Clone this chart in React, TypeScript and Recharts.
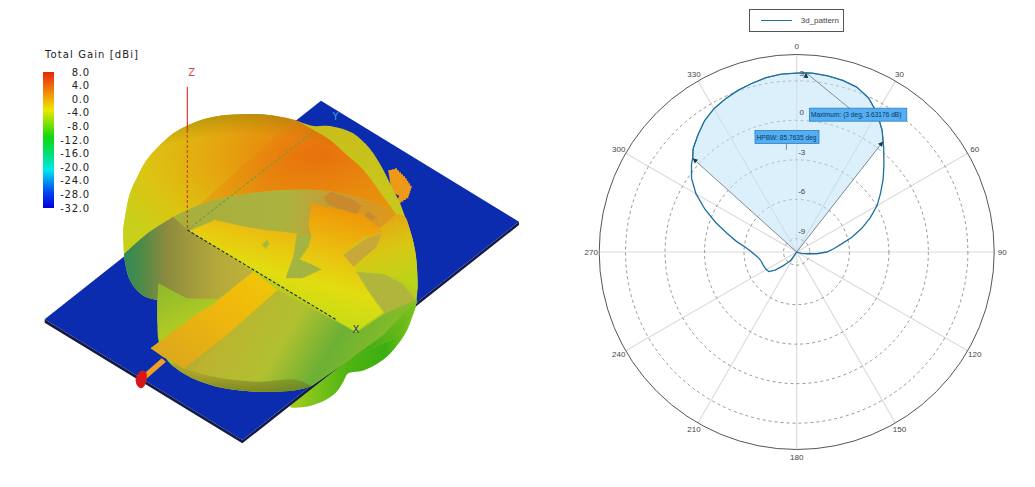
import {
  Bar,
  BarChart,
  Legend,
  PolarAngleAxis,
  PolarGrid,
  PolarRadiusAxis,
  Radar,
  RadarChart,
  Scatter,
  ScatterChart,
  XAxis,
  YAxis,
} from "recharts";

// polar cut, gain in dB at each angle in degrees
const angles = [
  0, 3, 5, 10, 15, 20, 25, 30, 35, 38, 40, 45, 50, 55, 60, 65, 70, 75, 80, 85, 90, 95, 100, 105, 110,
  115, 125, 135, 145, 155, 165, 175, 185, 195, 205, 210, 215, 220, 225, 230, 235, 240, 245, 250, 255,
  260, 265, 270, 275, 280, 285, 290, 295, 300, 305, 310, 312, 315, 320, 325, 330, 335, 340, 345, 350, 355,
];
const gainDb = [
  3.59, 3.63, 3.63, 3.59, 3.5, 3.33, 2.91, 2.19, 1.31, 0.66, 0.28, -0.63, -1.43, -2.23, -2.95, -3.83,
  -4.74, -5.66, -6.57, -7.18, -7.72, -8.48, -9.24, -9.62, -9.85, -10, -10, -10, -10, -10, -10, -10, -10,
  -10, -10, -10, -9.24, -8.93, -8.48, -7.87, -7.41, -7.33, -7.3, -7.26, -7.22, -7.11, -6.88, -6.57, -6.12,
  -5.35, -4.52, -3.45, -2.31, -1.17, -0.25, 0.43, 0.63, 1.12, 1.65, 2.19, 2.57, 2.83, 3.06, 3.25, 3.44, 3.56,
];
const angleTicks = [0, 30, 60, 90, 120, 150, 180, 210, 240, 270, 300, 330];
const radiusTicks = [-9, -6, -3, 0, 3];
const maxAngle = 3;
const hpbwStart = 312;
const hpbwEnd = 38;

const colorbarTicks = [8, 4, 0, -4, -8, -12, -16, -20, -24, -28, -32];

// 3d view outlines, in a 1500 x 1170 picture grid
const plateSide = [[44, 688], [44, 698], [637, 1060], [1467, 405], [1467, 395], [637, 1050]];
const plate = [[873, 32], [1467, 395], [637, 1050], [44, 688]];
const backPad = [
  [1075, 240], [1095, 235], [1125, 265], [1145, 295], [1135, 325], [1105, 345], [1085, 300],
];
const backPadHole = [[1085, 305], [1108, 318], [1098, 332]];
const lowerLobeArc = [
  [845, 885], [812, 918], [780, 950], [815, 952], [850, 945], [890, 928], [920, 905], [940, 875], [955, 850], [995, 843], [1030, 828],
  [1065, 805], [1090, 780], [1120, 740], [1140, 700], [1160, 640],
];
const lobeLowerLeft = [[382, 630], [350, 622], [325, 605], [305, 580], [292, 550], [284, 510], [282, 492]];
const lobeUpperLeft = [
  [282, 492], [281, 470], [280, 420], [287, 370], [300, 310], [325, 255], [350, 210], [390, 165], [430, 130], [475, 105], [520, 88],
  [560, 79], [600, 74], [680, 72], [750, 80], [800, 92],
];
const domeRight = [[800, 92], [850, 120], [900, 150], [950, 195], [1000, 240], [1060, 320], [1098, 372]];
const seamRight = [
  [1098, 372], [1050, 345], [1000, 328], [925, 308], [850, 300], [775, 300], [700, 305], [625, 315], [550, 330],
];
const seamMiddle = [[550, 330], [490, 352], [430, 380]];
const seamLeft = [[430, 380], [385, 408], [340, 440], [282, 492]];
const bumpEdge = [
  [800, 92], [850, 108], [900, 108], [960, 125], [1000, 155], [1030, 190], [1060, 240], [1080, 280], [1110, 340], [1125, 380],
  [1140, 420], [1153, 470], [1160, 520], [1163, 580], [1160, 630],
];
const rimRight = [[1160, 630], [1150, 670], [1120, 715], [1090, 745], [1000, 785], [950, 815]];
const rimFront = [[950, 815], [845, 888]];
const bottomFront = [
  [845, 888], [800, 900], [740, 905], [680, 905], [620, 900], [560, 890], [500, 870], [460, 850], [425, 825],
];
const bottomLeft = [[425, 825], [400, 795], [385, 750], [382, 690], [382, 630]];
const rimShadowEdge = [[425, 825], [470, 838], [560, 862], [680, 875], [790, 868], [845, 888]];
const rightZoneEdge = [[1098, 372], [1125, 380], [1140, 420], [1153, 470], [1160, 520], [1163, 600]];
const rightPanel = [[970, 545], [1060, 552], [1115, 580], [1150, 620], [1163, 640], [1062, 672]];
const liftWedge = [[385, 580], [470, 625], [570, 628], [520, 660], [390, 750], [382, 690], [382, 630]];
const patch = [
  [480, 420], [550, 390], [640, 410], [700, 420], [800, 430], [845, 440], [835, 400], [845, 340], [900, 355], [990, 370], [1055, 425],
  [1010, 440], [940, 490], [965, 495], [970, 535], [1010, 600], [1060, 670], [980, 725],
];
const patchSlot = [
  [800, 430], [845, 440], [835, 475], [810, 510], [845, 525], [875, 540], [820, 565], [765, 565], [790, 495],
];
const patchBrown = [[900, 305], [965, 330], [995, 350], [982, 372], [940, 358], [900, 345], [880, 320]];
const patchSpot = [[1010, 365], [1040, 385], [1030, 392], [1005, 375]];
const patchNotch = [[940, 495], [1010, 445], [1055, 430], [1040, 470], [970, 530]];
const patchDot = [[708, 450], [720, 462], [708, 476], [696, 462]];
const feedPad = [[362, 775], [392, 752], [405, 805]];
const feedStrip = [[670, 545], [742, 600], [590, 735], [462, 836], [410, 805], [362, 775], [510, 665], [540, 650]];
const feedLine = [[395, 805], [408, 815], [345, 870], [332, 860]];
const portArc = [[320, 885], [317, 868], [325, 850], [337, 842], [349, 848], [350, 865], [345, 885], [332, 895], [320, 885]];
const zAxisLine = [[472, -10], [472, 120]];
const zAxisInner = [[472, 120], [472, 420]];
const xAxisLine = [[472, 420], [920, 690]];
const yAxisLine = [[472, 420], [850, 125]];
const axisNames = [
  { x: 485, y: -52, name: "Z", color: "#d64a4a" },
  { x: 978, y: 718, name: "X", color: "#123a66" },
  { x: 917, y: 78, name: "Y", color: "#2fa6c8" },
];

const toPoints = (pts: number[][]) => pts.map(([x, y]) => ({ x, y }));
const NoShape = () => null;

// rounds a hand-picked outline between its vertices, ends stay put
function arc(pts: number[][]) {
  const out: number[][] = [];
  for (let i = 0; i < pts.length - 1; i++) {
    const p0 = pts[Math.max(i - 1, 0)];
    const p1 = pts[i];
    const p2 = pts[i + 1];
    const p3 = pts[Math.min(i + 2, pts.length - 1)];
    for (let k = 0; k < 5; k++) {
      const t = k / 5;
      const at = (a: number, b: number, c: number, d: number) =>
        0.5 * (2 * b + (c - a) * t + (2 * a - 5 * b + 4 * c - d) * t * t + (3 * b - a - 3 * c + d) * t * t * t);
      out.push([at(p0[0], p1[0], p2[0], p3[0]), at(p0[1], p1[1], p2[1], p3[1])]);
    }
  }
  out.push(pts[pts.length - 1]);
  return out;
}
const back = (pts: number[][]) => [...pts].reverse();

const silhouette = [
  ...arc(bumpEdge), ...arc(rimRight), ...rimFront, ...arc(bottomFront), ...arc(bottomLeft), ...arc(lobeLowerLeft), ...arc(lobeUpperLeft),
];
const dome = [...arc(lobeUpperLeft), ...arc(domeRight), ...arc(seamRight), ...arc(seamMiddle), ...arc(seamLeft)];
const domeBand = [[480, 370], [790, 90], ...arc(domeRight), ...arc(seamRight)];
const leftZone = [
  ...arc(seamLeft), ...back(arc(lobeLowerLeft)), [470, 628], [565, 628], [670, 545], [475, 420],
];
const upperZone = [
  ...back(arc(seamMiddle)), ...back(arc(seamRight)), [1110, 400], [1055, 425], [845, 440], [800, 430], [475, 420],
];
const rightZone = [[1055, 410], ...arc(rightZoneEdge), [1100, 560], [970, 540], [940, 490]];
const frontMain = [[742, 600], [980, 727], [1062, 672], ...arc(rimRight), ...rimFront, ...arc(bottomFront), [590, 735]];
const frontRim = [...arc(bottomFront), ...arc(rimShadowEdge)];
const plateGlow = [[1060, 735], ...arc(rimRight)];
const lowerLobe = [...arc(lowerLobeArc), [1000, 770]];

// the mesh on the patch is cut in small steps
function stepped(pts: number[][], size = 9) {
  const out: number[][] = [];
  pts.forEach(([x, y], i) => {
    const [nx, ny] = pts[(i + 1) % pts.length];
    const count = Math.max(1, Math.round(Math.hypot(nx - x, ny - y) / size));
    for (let k = 0; k < count; k++) {
      const ax = x + ((nx - x) * k) / count;
      const bx = x + ((nx - x) * (k + 1)) / count;
      const ay = y + ((ny - y) * k) / count;
      out.push([ax, ay], [bx, ay]);
    }
  });
  return out;
}

function surface(pts: number[][], fill: string) {
  return (
    <Scatter
      data={toPoints(pts)}
      shape={NoShape}
      line={{ fill, stroke: "none" }}
      lineType="joint"
      lineJointType="linearClosed"
      isAnimationActive={false}
    />
  );
}

function axisLine(pts: number[][], stroke: string, dash?: string) {
  return (
    <Scatter
      data={toPoints(pts)}
      shape={NoShape}
      line={{ fill: "none", stroke, strokeWidth: 1.1, strokeDasharray: dash }}
      lineType="joint"
      lineJointType="linear"
      isAnimationActive={false}
    />
  );
}

const AxisName = (props: any) => (
  <text
    x={props.cx}
    y={props.cy}
    fill={props.payload.color}
    fontSize={10}
    fontFamily="DejaVu Sans"
    textAnchor="middle"
    dominantBaseline="central"
  >
    {props.payload.name}
  </text>
);

function AntennaView() {
  return (
    <ScatterChart width={500} height={390} margin={{ top: 0, right: 0, bottom: 0, left: 0 }}>
      <defs>
        <linearGradient id="lowerFill" x1="0" y1="0" x2="1" y2="0">
          <stop offset="0" stopColor="#a4cf1c" />
          <stop offset="0.45" stopColor="#4fb414" />
          <stop offset="0.75" stopColor="#3cae12" />
          <stop offset="1" stopColor="#86c81a" />
        </linearGradient>
        <linearGradient id="baseFill" x1="0" y1="0" x2="0" y2="1">
          <stop offset="0" stopColor="#cabc1c" />
          <stop offset="0.5" stopColor="#c4d01c" />
          <stop offset="1" stopColor="#98c420" />
        </linearGradient>
        <radialGradient id="domeFill" cx="0.74" cy="0.3" r="0.85">
          <stop offset="0" stopColor="#e8720c" />
          <stop offset="0.25" stopColor="#e88c0e" />
          <stop offset="0.5" stopColor="#e4a810" />
          <stop offset="0.78" stopColor="#dcc412" />
          <stop offset="1" stopColor="#c8d01a" />
        </radialGradient>
        <radialGradient id="domeRim" cx="0.45" cy="0.75" r="0.75">
          <stop offset="0.8" stopColor="#6a5a00" stopOpacity="0" />
          <stop offset="1" stopColor="#6a5a00" stopOpacity="0.32" />
        </radialGradient>
        <linearGradient id="bandFill" x1="0" y1="0" x2="1" y2="0.5">
          <stop offset="0" stopColor="#e4a010" stopOpacity="0.06" />
          <stop offset="0.55" stopColor="#e86a0c" stopOpacity="0.35" />
          <stop offset="1" stopColor="#e8860c" stopOpacity="0.6" />
        </linearGradient>
        <linearGradient id="leftFill" x1="0" y1="0" x2="1" y2="0">
          <stop offset="0" stopColor="#2f8a58" />
          <stop offset="0.14" stopColor="#4f8a48" />
          <stop offset="0.32" stopColor="#8b8a3e" />
          <stop offset="0.7" stopColor="#b4a83c" />
          <stop offset="1" stopColor="#c0b238" />
        </linearGradient>
        <linearGradient id="upperFill" x1="0" y1="0" x2="1" y2="0">
          <stop offset="0" stopColor="#a8ae3c" />
          <stop offset="0.5" stopColor="#acb23e" />
          <stop offset="0.72" stopColor="#c89a34" />
          <stop offset="1" stopColor="#e0981a" />
        </linearGradient>
        <linearGradient id="rightFill" x1="0.2" y1="0" x2="0.5" y2="1">
          <stop offset="0" stopColor="#e89c10" />
          <stop offset="0.55" stopColor="#d8c814" />
          <stop offset="1" stopColor="#bcd418" />
        </linearGradient>
        <linearGradient id="wedgeFill" x1="0" y1="0" x2="0.5" y2="1">
          <stop offset="0" stopColor="#8cb82c" />
          <stop offset="1" stopColor="#bcd022" />
        </linearGradient>
        <linearGradient id="frontFill" x1="0" y1="0" x2="1" y2="0.25">
          <stop offset="0" stopColor="#8e8e28" />
          <stop offset="0.3" stopColor="#bcb430" />
          <stop offset="0.55" stopColor="#b0c030" />
          <stop offset="0.75" stopColor="#6cb034" />
          <stop offset="1" stopColor="#8cc026" />
        </linearGradient>
        <linearGradient id="rimFill" x1="0" y1="0" x2="0" y2="1">
          <stop offset="0" stopColor="#6e7420" stopOpacity="0" />
          <stop offset="1" stopColor="#6e7420" stopOpacity="0.75" />
        </linearGradient>
        <linearGradient id="glowFill" x1="0" y1="1" x2="1" y2="0">
          <stop offset="0" stopColor="#32a414" />
          <stop offset="1" stopColor="#80c41c" />
        </linearGradient>
        <linearGradient id="patchFill" x1="0.7" y1="0" x2="0.3" y2="1">
          <stop offset="0" stopColor="#f09608" />
          <stop offset="0.32" stopColor="#eac010" />
          <stop offset="0.55" stopColor="#e2dc10" />
          <stop offset="0.85" stopColor="#c0dc18" />
          <stop offset="1" stopColor="#98d024" />
        </linearGradient>
        <linearGradient id="stripFill" x1="0" y1="1" x2="1" y2="0">
          <stop offset="0" stopColor="#d8a420" />
          <stop offset="0.6" stopColor="#f0b80c" />
          <stop offset="1" stopColor="#f0c808" />
        </linearGradient>
      </defs>
      <XAxis dataKey="x" type="number" domain={[0, 1500]} hide />
      <YAxis dataKey="y" type="number" domain={[-90, 1080]} reversed hide />
      {surface(lowerLobe, "url(#lowerFill)")}
      {surface(plateSide, "#141c44")}
      {surface(plate, "#0c2cb0")}
      {surface(stepped(backPad), "#ee9a18")}
      {surface(backPadHole, "#0c2cb0")}
      {surface(feedPad, "#f0a820")}
      {surface(feedLine, "#f0a020")}
      {surface(arc(portArc), "#d81818")}
      {surface(silhouette, "url(#baseFill)")}
      {surface(dome, "url(#domeFill)")}
      {surface(dome, "url(#domeRim)")}
      {surface(domeBand, "url(#bandFill)")}
      {surface(leftZone, "url(#leftFill)")}
      {surface(upperZone, "url(#upperFill)")}
      {surface(rightZone, "url(#rightFill)")}
      {surface(rightPanel, "#b0b63c")}
      {surface(liftWedge, "url(#wedgeFill)")}
      {surface(frontMain, "url(#frontFill)")}
      {surface(frontRim, "url(#rimFill)")}
      {surface(plateGlow, "url(#glowFill)")}
      {surface(stepped(patch), "url(#patchFill)")}
      {surface(stepped(patchSlot), "#a4b440")}
      {surface(stepped(patchBrown), "#c88a2c")}
      {surface(stepped(patchSpot), "#c88a2c")}
      {surface(patchNotch, "#c8a838")}
      {surface(stepped(patchDot, 6), "#a8b83c")}
      {surface(feedStrip, "url(#stripFill)")}
      {axisLine(zAxisLine, "#e02828")}
      {axisLine(zAxisInner, "#c04010", "3 2")}
      {axisLine(xAxisLine, "#20242a", "3 2")}
      {axisLine(yAxisLine, "#6aa040", "3 2")}
      <Scatter data={axisNames} shape={AxisName} isAnimationActive={false} />
    </ScatterChart>
  );
}

const ColorbarTick = (props: any) => (
  <text
    x={90}
    y={props.y}
    fill="#222"
    fontSize={10}
    letterSpacing={0.8}
    fontFamily="DejaVu Sans"
    textAnchor="end"
    dominantBaseline="central"
  >
    {props.payload.value.toFixed(1)}
  </text>
);

function Colorbar() {
  return (
    <BarChart
      width={100}
      height={260}
      data={[{ name: "gain", span: [-32, 8] }]}
      margin={{ top: 72, right: 0, bottom: 52, left: 43 }}
      barCategoryGap={0}
    >
      <defs>
        <linearGradient id="gainScale" x1="0" y1="0" x2="0" y2="1">
          <stop offset="0" stopColor="#e8240c" />
          <stop offset="0.14" stopColor="#f0840a" />
          <stop offset="0.28" stopColor="#eee800" />
          <stop offset="0.48" stopColor="#10d810" />
          <stop offset="0.6" stopColor="#00e070" />
          <stop offset="0.72" stopColor="#00e8f0" />
          <stop offset="0.88" stopColor="#0048f0" />
          <stop offset="1" stopColor="#0000d8" />
        </linearGradient>
      </defs>
      <XAxis dataKey="name" hide />
      <YAxis
        orientation="right"
        width={46}
        domain={[-32, 8]}
        ticks={colorbarTicks}
        interval={0}
        axisLine={false}
        tickLine={false}
        tick={ColorbarTick}
      />
      <Bar dataKey="span" fill="url(#gainScale)" isAnimationActive={false} />
    </BarChart>
  );
}

const polarData = angles.map((angle, i) => ({
  angle,
  gain: gainDb[i],
  hpbw: angle >= hpbwStart || angle <= hpbwEnd ? gainDb[i] : -10,
}));

const AngleTick = (props: any) => (
  <text
    x={props.x}
    y={props.y}
    fill="#444"
    fontSize={8}
    fontFamily="Liberation Sans"
    textAnchor="middle"
    dominantBaseline="central"
  >
    {props.payload.value}
  </text>
);

const RadiusTick = (props: any) => (
  <text
    x={props.x + 5}
    y={props.y - 7.5}
    fill="#444"
    fontSize={8}
    fontFamily="Liberation Sans"
    textAnchor="middle"
    dominantBaseline="central"
  >
    {props.payload.value}
  </text>
);

function Callout(props: { x: number; y: number; w: number; text: string }) {
  return (
    <g>
      <rect x={props.x} y={props.y} width={props.w} height={13} fill="#56aef2" stroke="#2b7fc4" strokeWidth={0.8} />
      <text
        x={props.x + 1.5}
        y={props.y + 6.8}
        fill="#083660"
        fontSize={6.6}
        fontFamily="Liberation Sans"
        dominantBaseline="central"
      >
        {props.text}
      </text>
    </g>
  );
}

// arrow heads and value callouts hang off the curve's own points
const CurveMarker = (props: any) => {
  const angle = angles[props.index];
  const head = (
    <polygon
      points="0,0 -2.5,5 2.5,5"
      fill="#0e3a55"
      transform={`translate(${props.cx},${props.cy}) rotate(${angle})`}
    />
  );
  if (angle === maxAngle) {
    return (
      <g>
        <line x1={props.cx} y1={props.cy} x2={props.cx + 44} y2={props.cy + 36} stroke="#66757f" strokeWidth={0.8} />
        {head}
        <Callout x={props.cx + 3.3} y={props.cy + 35.4} w={97.4} text="Maximum: (3 deg, 3.63176 dB)" />
      </g>
    );
  }
  if (angle === hpbwStart) {
    return (
      <g>
        {head}
        <Callout x={props.cx + 62.3} y={props.cy - 27.9} w={64} text="HPBW: 85.7635 deg" />
        <line
          x1={props.cx + 93.7}
          y1={props.cy - 14.6}
          x2={props.cx + 93.7}
          y2={props.cy - 8.6}
          stroke="#66757f"
          strokeWidth={0.8}
        />
      </g>
    );
  }
  if (angle === hpbwEnd) return head;
  return <g />;
};

const PatternLegend = (props: any) => {
  const entry = props.payload.find((p: any) => p.value === "3d_pattern");
  return (
    <div
      style={{
        boxSizing: "border-box",
        width: 95,
        height: 23,
        border: "1px solid #555",
        background: "#fff",
        display: "flex",
        alignItems: "center",
        fontFamily: "Liberation Sans",
        fontSize: 8,
        color: "#444",
      }}
    >
      <span style={{ width: 31, height: 1.5, marginLeft: 11, marginRight: 9, background: entry?.color }} />
      {entry?.value}
    </div>
  );
};

function PolarCut() {
  return (
    <RadarChart
      width={475}
      height={487}
      data={polarData}
      cx={236.7}
      cy={252}
      outerRadius={197.5}
      startAngle={90}
      endAngle={-270}
    >
      <PolarGrid gridType="circle" polarRadius={[]} stroke="#dcdcdc" strokeWidth={1.2} />
      <PolarGrid gridType="circle" radialLines={false} stroke="#7c7c7c" strokeWidth={0.8} strokeDasharray="3 3" />
      <PolarAngleAxis
        dataKey="angle"
        type="number"
        domain={[0, 360]}
        ticks={angleTicks as any}
        tick={AngleTick}
        tickLine={false}
        axisLineType="circle"
        axisLine={{ stroke: "#555", strokeWidth: 1 }}
      />
      <PolarRadiusAxis
        angle={90}
        type="number"
        domain={[-10, 5]}
        ticks={radiusTicks as any}
        tick={RadiusTick}
        axisLine={false}
        tickLine={false}
      />
      <Radar
        dataKey="hpbw"
        name="hpbw"
        legendType="none"
        stroke="#5f6e78"
        strokeWidth={0.8}
        fill="#bfe3f7"
        fillOpacity={0.55}
        isAnimationActive={false}
      />
      <Radar
        dataKey="gain"
        name="3d_pattern"
        stroke="#1b6f9e"
        strokeWidth={1.3}
        fill="none"
        dot={CurveMarker}
        isAnimationActive={false}
      />
      <Legend content={PatternLegend} wrapperStyle={{ left: 188.7, top: 9, width: 95, bottom: "auto" }} />
    </RadarChart>
  );
}

export default function App() {
  return (
    <div style={{ position: "absolute", left: 0, top: 0, width: 1035, height: 487, background: "#fff", overflow: "hidden" }}>
      <div
        style={{
          position: "absolute",
          left: 45,
          top: 49,
          fontFamily: "DejaVu Sans",
          fontSize: 10,
          letterSpacing: 1.1,
          color: "#222",
          whiteSpace: "nowrap",
        }}
      >
        Total Gain [dBi]
      </div>
      <div style={{ position: "absolute", left: 30, top: 60 }}>
        <AntennaView />
      </div>
      <div style={{ position: "absolute", left: 0, top: 0 }}>
        <Colorbar />
      </div>
      <div style={{ position: "absolute", left: 560, top: 0 }}>
        <PolarCut />
      </div>
    </div>
  );
}
